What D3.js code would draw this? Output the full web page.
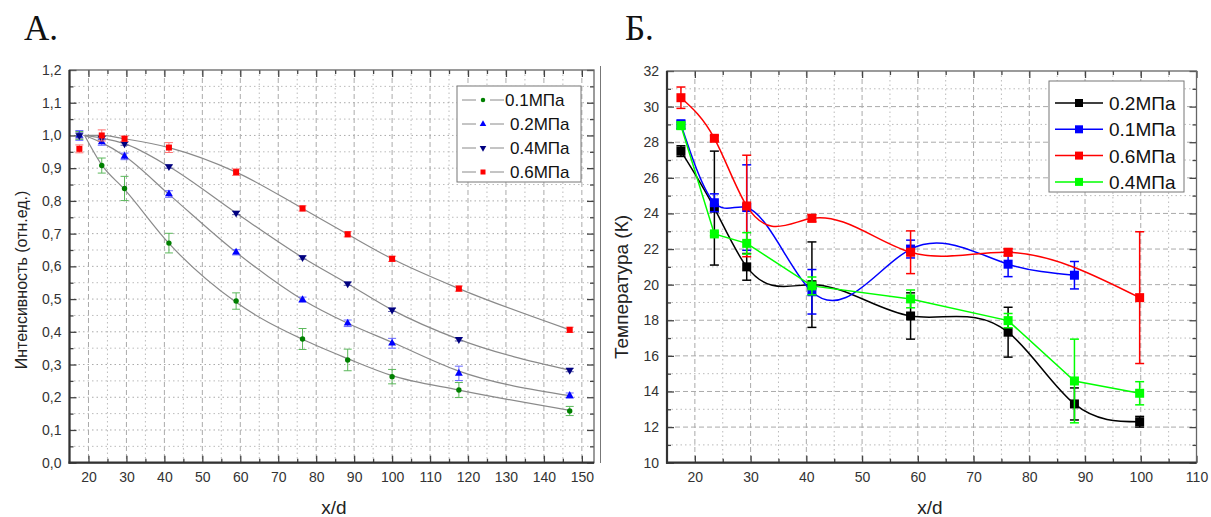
<!DOCTYPE html>
<html>
<head>
<meta charset="utf-8">
<script src="https://cdn.jsdelivr.net/npm/d3@7"></script>
<style>
  body { margin: 0; background: #fff; }
  text { font-family: "Liberation Sans", Arial, sans-serif; }
</style>
</head>
<body>
<svg id="chart" width="1211" height="517"></svg>
<script>
// ---- panel A data: intensity vs x/d ----
var xA = [17.6, 23.5, 29.5, 41.2, 58.9, 76.4, 88.3, 100, 117.6, 146.8];
var a01 = [1.0, 0.908, 0.838, 0.671, 0.494, 0.378, 0.314, 0.263, 0.222, 0.158];
var a01err = [0.012, 0.023, 0.037, 0.03, 0.025, 0.032, 0.033, 0.022, 0.023, 0.014];
var a02 = [1.0, 0.98, 0.936, 0.821, 0.643, 0.498, 0.426, 0.365, 0.273, 0.205];
var a02err = [0.015, 0.01, 0.01, 0.01, 0.008, 0.008, 0.01, 0.015, 0.022, 0.008];
var a04 = [1.0, 0.992, 0.975, 0.905, 0.763, 0.627, 0.547, 0.467, 0.377, 0.283];
var a04err = [0.008, 0.005, 0.005, 0.005, 0.005, 0.005, 0.005, 0.005, 0.005, 0.005];
var a06 = [0.959, 1.0, 0.99, 0.963, 0.888, 0.777, 0.698, 0.623, 0.532, 0.406];
var a06err = [0.012, 0.017, 0.008, 0.015, 0.01, 0.008, 0.008, 0.008, 0.008, 0.008];
// fitted curves (grey lines)
var fitX = [19, 23.5, 29.5, 41.2, 58.9, 76.4, 88.3, 100, 117.6, 146.8];
var fit01 = [1.0, 0.91, 0.835, 0.67, 0.49, 0.377, 0.318, 0.266, 0.222, 0.16];
var fit02 = [1.0, 0.978, 0.937, 0.82, 0.643, 0.498, 0.426, 0.368, 0.28, 0.205];
var fit04 = [1.0, 0.992, 0.975, 0.905, 0.763, 0.627, 0.547, 0.467, 0.377, 0.283];
var fit06 = [1.0, 1.0, 0.99, 0.963, 0.888, 0.777, 0.698, 0.623, 0.532, 0.406];
var labelsA = ["0.1МПа", "0.2МПа", "0.4МПа", "0.6МПа"];

// ---- panel B data: temperature vs x/d ----
var xB = [17.5, 23.5, 29.3, 41, 58.7, 76.2, 88.1, 99.8];
var b02 = [27.5, 24.3, 21.0, 20.0, 18.24, 17.33, 13.3, 12.3];
var b02err = [0.3, 3.2, 0.75, 2.4, 1.3, 1.4, 0.9, 0.3];
var b01 = [29.0, 24.6, 24.33, 19.6, 22.0, 21.15, 20.53, null];
var b01err = [0.25, 0.5, 2.4, 1.25, 0.5, 0.7, 0.77, null];
var b06 = [30.5, 28.22, 24.42, 23.73, 21.82, 21.82, null, 19.27];
var b06err = [0.6, 0.15, 2.85, 0.2, 1.2, 0.2, null, 3.7];
var b04 = [28.93, 22.85, 22.32, 19.93, 19.2, 17.98, 14.59, 13.9];
var b04err = [0.2, 0.1, 0.6, 0.5, 0.5, 0.4, 2.35, 0.65];
var labelsB = ["0.2МПа", "0.1МПа", "0.6МПа", "0.4МПа"];

var svg = d3.select("#chart");

// natural cubic spline y(x) as a d3 curve (like Origin's "Spline" connect)
function SplineX(context) { this._context = context; }
SplineX.prototype = {
    areaStart: function() { this._line = 0; },
    areaEnd: function() { this._line = NaN; },
    lineStart: function() { this._x = []; this._y = []; },
    point: function(x, y) { this._x.push(+x); this._y.push(+y); },
    lineEnd: function() {
        var x = this._x, y = this._y, n = x.length, ctx = this._context;
        if (!n) return;
        ctx.moveTo(x[0], y[0]);
        if (n === 2) { ctx.lineTo(x[1], y[1]); return; }
        var h = [], i;
        for (i = 0; i < n - 1; i++) h.push(x[i + 1] - x[i]);
        // tridiagonal system for second derivatives
        var M = new Array(n).fill(0), cp = new Array(n).fill(0), dp = new Array(n).fill(0);
        for (i = 1; i < n - 1; i++) {
            var a = h[i - 1], b = 2 * (h[i - 1] + h[i]), c = h[i];
            var d = 6 * ((y[i + 1] - y[i]) / h[i] - (y[i] - y[i - 1]) / h[i - 1]);
            var den = b - a * cp[i - 1];
            cp[i] = c / den;
            dp[i] = (d - a * dp[i - 1]) / den;
        }
        for (i = n - 2; i >= 1; i--) M[i] = dp[i] - cp[i] * M[i + 1];
        for (i = 0; i < n - 1; i++) {
            var s = (y[i + 1] - y[i]) / h[i];
            var m0 = s - h[i] * (2 * M[i] + M[i + 1]) / 6;
            var m1 = s + h[i] * (M[i] + 2 * M[i + 1]) / 6;
            ctx.bezierCurveTo(x[i] + h[i] / 3, y[i] + m0 * h[i] / 3,
                x[i + 1] - h[i] / 3, y[i + 1] - m1 * h[i] / 3, x[i + 1], y[i + 1]);
        }
    }
};
function curveSplineX(context) { return new SplineX(context); }

function makeSeries(xs, ys, es) {
    return xs.map(function(x, i) { return { x: x, y: ys[i], e: es ? es[i] : 0 }; })
        .filter(function(d) { return d.y != null; });
}

// frame, grid and axes for one panel
function panel(opt) {
    var x = d3.scaleLinear().domain(opt.xDomain).range([opt.left, opt.right]);
    var y = d3.scaleLinear().domain(opt.yDomain).range([opt.bottom, opt.top]);
    var g = svg.append("g");

    // grid
    opt.xMinor.forEach(function(v) {
        g.append("line").attr("x1", x(v)).attr("x2", x(v)).attr("y1", opt.top).attr("y2", opt.bottom)
            .attr("stroke", "#bbb").attr("stroke-width", 1).attr("stroke-dasharray", "1.5,3");
    });
    opt.xMajor.forEach(function(v) {
        g.append("line").attr("x1", x(v)).attr("x2", x(v)).attr("y1", opt.top).attr("y2", opt.bottom)
            .attr("stroke", "#aaa").attr("stroke-width", 1).attr("stroke-dasharray", "5,3");
    });
    opt.yMinor.forEach(function(v) {
        g.append("line").attr("x1", opt.left).attr("x2", opt.right).attr("y1", y(v)).attr("y2", y(v))
            .attr("stroke", "#bbb").attr("stroke-width", 1).attr("stroke-dasharray", "1.5,3");
    });
    opt.yMajor.forEach(function(v) {
        g.append("line").attr("x1", opt.left).attr("x2", opt.right).attr("y1", y(v)).attr("y2", y(v))
            .attr("stroke", "#aaa").attr("stroke-width", 1)
            .attr("stroke-dasharray", opt.yMajorDash ? "5,3" : "1.5,3");
    });

    var fmt = opt.yFormat;
    function styleAxis(sel) {
        sel.select(".domain").remove();
        sel.selectAll(".tick line").attr("stroke", "#444").attr("stroke-width", 1.3);
        sel.selectAll(".tick text").attr("fill", "#333").style("font-size", "14px");
    }
    // major ticks
    g.append("g").attr("transform", "translate(0," + opt.bottom + ")")
        .call(d3.axisBottom(x).tickValues(opt.xMajor).tickSize(-7).tickPadding(9).tickFormat(d3.format("d")))
        .call(styleAxis);
    g.append("g").attr("transform", "translate(0," + opt.top + ")")
        .call(d3.axisTop(x).tickValues(opt.xMajor).tickSize(-7).tickFormat(""))
        .call(styleAxis);
    g.append("g").attr("transform", "translate(" + opt.left + ",0)")
        .call(d3.axisLeft(y).tickValues(opt.yTicks).tickSize(-7).tickPadding(8).tickFormat(fmt))
        .call(styleAxis);
    g.append("g").attr("transform", "translate(" + opt.right + ",0)")
        .call(d3.axisRight(y).tickValues(opt.yTicks).tickSize(-7).tickFormat(""))
        .call(styleAxis);
    // minor ticks
    g.append("g").attr("transform", "translate(0," + opt.bottom + ")")
        .call(d3.axisBottom(x).tickValues(opt.xMinor).tickSize(-4).tickFormat("")).call(styleAxis);
    g.append("g").attr("transform", "translate(0," + opt.top + ")")
        .call(d3.axisTop(x).tickValues(opt.xMinor).tickSize(-4).tickFormat("")).call(styleAxis);
    g.append("g").attr("transform", "translate(" + opt.left + ",0)")
        .call(d3.axisLeft(y).tickValues(opt.yMinorTicks).tickSize(-4).tickFormat("")).call(styleAxis);
    g.append("g").attr("transform", "translate(" + opt.right + ",0)")
        .call(d3.axisRight(y).tickValues(opt.yMinorTicks).tickSize(-4).tickFormat("")).call(styleAxis);

    // frame
    g.append("rect").attr("x", opt.left).attr("y", opt.top)
        .attr("width", opt.right - opt.left).attr("height", opt.bottom - opt.top)
        .attr("fill", "none").attr("stroke", "#666").attr("stroke-width", 1.3);
    g.append("line").attr("x1", opt.left).attr("x2", opt.left).attr("y1", opt.top).attr("y2", opt.bottom + 1)
        .attr("stroke", "#333").attr("stroke-width", 2.2);
    g.append("line").attr("x1", opt.left - 1).attr("x2", opt.right).attr("y1", opt.bottom).attr("y2", opt.bottom)
        .attr("stroke", "#333").attr("stroke-width", 2.2);

    // axis titles
    svg.append("text").attr("x", opt.xLabelX).attr("y", 514)
        .attr("text-anchor", "middle").style("font-size", "19px").attr("fill", "#222").text("x/d");
    svg.append("text")
        .attr("transform", "translate(" + opt.yLabelX + "," + opt.yLabelY + ") rotate(-90)")
        .attr("text-anchor", "middle").style("font-size", opt.yLabelSize).attr("fill", "#222").text(opt.yLabel);

    return { x: x, y: y, g: g };
}

function range(a, b, step) { return d3.range(a, b + step / 2, step).map(function(v) { return +v.toFixed(3); }); }

// ===================== Panel A =====================
var pA = panel({
    left: 69.5, right: 594, top: 70, bottom: 462.7,
    xDomain: [15, 153.2], yDomain: [0, 1.2],
    xMajor: range(20, 150, 10), xMinor: range(25, 145, 10),
    yTicks: range(0, 1.2, 0.1), yMinorTicks: range(0.05, 1.15, 0.1),
    yMajor: range(0.1, 1.1, 0.1), yMinor: range(0.05, 1.15, 0.1), yMajorDash: false,
    yFormat: function(d) { return d3.format(".1f")(d).replace(".", ","); },
    yLabel: "Интенсивность (отн.ед.)", yLabelX: 27, yLabelY: 280, yLabelSize: "16px", xLabelX: 334
});

var seriesA = [
    { pts: makeSeries(xA, a01, a01err), fit: makeSeries(fitX, fit01), color: "#008000", err: "#5cb85c", shape: "circle" },
    { pts: makeSeries(xA, a02, a02err), fit: makeSeries(fitX, fit02), color: "#0000ff", err: "#6a6aff", shape: "up" },
    { pts: makeSeries(xA, a04, a04err), fit: makeSeries(fitX, fit04), color: "#000080", err: "#5a5aa8", shape: "down" },
    { pts: makeSeries(xA, a06, a06err), fit: makeSeries(fitX, fit06), color: "#ff0000", err: "#ff7070", shape: "square" }
];

var fitLine = d3.line().x(function(d) { return pA.x(d.x); }).y(function(d) { return pA.y(d.y); })
    .curve(d3.curveMonotoneX);
seriesA.forEach(function(s) {
    pA.g.append("path").attr("d", fitLine(s.fit)).attr("fill", "none")
        .attr("stroke", "#8a8a8a").attr("stroke-width", 1.2);
});

function marker(g, shape, cx, cy, color, size) {
    if (shape === "circle") {
        g.append("circle").attr("cx", cx).attr("cy", cy).attr("r", size * 0.45).attr("fill", color);
    } else if (shape === "square") {
        g.append("rect").attr("x", cx - size / 2).attr("y", cy - size / 2)
            .attr("width", size).attr("height", size).attr("fill", color);
    } else {
        var sym = d3.symbol().type(d3.symbolTriangle).size(size * size * 0.75);
        g.append("path").attr("d", sym())
            .attr("transform", "translate(" + cx + "," + cy + ")" + (shape === "down" ? " rotate(180)" : ""))
            .attr("fill", color);
    }
}

function errorBar(g, x, y, d, color, cap, width) {
    var x0 = x(d.x);
    g.append("line").attr("x1", x0).attr("x2", x0).attr("y1", y(d.y - d.e)).attr("y2", y(d.y + d.e))
        .attr("stroke", color).attr("stroke-width", width);
    [d.y - d.e, d.y + d.e].forEach(function(v) {
        g.append("line").attr("x1", x0 - cap).attr("x2", x0 + cap).attr("y1", y(v)).attr("y2", y(v))
            .attr("stroke", color).attr("stroke-width", width);
    });
}

seriesA.forEach(function(s) {
    s.pts.forEach(function(d) {
        errorBar(pA.g, pA.x, pA.y, d, s.err, 4, 1);
        marker(pA.g, s.shape, pA.x(d.x), pA.y(d.y), s.color, 6);
    });
});

// legend A
var legA = svg.append("g");
legA.append("rect").attr("x", 457).attr("y", 86).attr("width", 124).attr("height", 96)
    .attr("fill", "#fff").attr("stroke", "#777").attr("stroke-width", 1);
seriesA.forEach(function(s, i) {
    var ly = 100 + i * 24;
    legA.append("line").attr("x1", 462).attr("x2", 476).attr("y1", ly).attr("y2", ly).attr("stroke", "#8a8a8a");
    legA.append("line").attr("x1", 490).attr("x2", 504).attr("y1", ly).attr("y2", ly).attr("stroke", "#8a8a8a");
    marker(legA, s.shape, 483, ly, s.color, 5);
    legA.append("text").attr("x", i === 0 ? 505 : 510).attr("y", ly + 6)
        .style("font-size", "17px").attr("fill", "#111").text(labelsA[i]);
});

// ===================== Panel B =====================
// thin separator line at the left of panel B
svg.append("line").attr("x1", 600.5).attr("x2", 600.5).attr("y1", 66).attr("y2", 463)
    .attr("stroke", "#777").attr("stroke-width", 1);

var pB = panel({
    left: 667, right: 1196.5, top: 71, bottom: 462.7,
    xDomain: [15, 110], yDomain: [10, 32],
    xMajor: range(20, 110, 10), xMinor: range(25, 105, 10),
    yTicks: range(10, 32, 2), yMinorTicks: range(11, 31, 2),
    yMajor: range(12, 30, 2), yMinor: range(11, 31, 2), yMajorDash: true,
    yFormat: d3.format("d"),
    yLabel: "Температура (К)", yLabelX: 628, yLabelY: 287, yLabelSize: "19px", xLabelX: 930
});

var seriesB = [
    { pts: makeSeries(xB, b02, b02err), color: "#000000", curve: curveSplineX },
    { pts: makeSeries(xB, b01, b01err), color: "#0000ff", curve: curveSplineX },
    { pts: makeSeries(xB, b06, b06err), color: "#ff0000", curve: curveSplineX },
    { pts: makeSeries(xB, b04, b04err), color: "#00ff00", curve: d3.curveLinear }
];

seriesB.forEach(function(s) {
    var line = d3.line().x(function(d) { return pB.x(d.x); }).y(function(d) { return pB.y(d.y); }).curve(s.curve);
    pB.g.append("path").attr("d", line(s.pts)).attr("fill", "none")
        .attr("stroke", s.color).attr("stroke-width", 1.5);
    s.pts.forEach(function(d) {
        errorBar(pB.g, pB.x, pB.y, d, s.color, 4.5, 1.5);
        marker(pB.g, "square", pB.x(d.x), pB.y(d.y), s.color, 9);
    });
});

// legend B
var legB = svg.append("g");
legB.append("rect").attr("x", 1049).attr("y", 81).attr("width", 135).attr("height", 111)
    .attr("fill", "#fff").attr("stroke", "#777").attr("stroke-width", 1);
seriesB.forEach(function(s, i) {
    var ly = 103 + i * 26.3;
    legB.append("line").attr("x1", 1055).attr("x2", 1103).attr("y1", ly).attr("y2", ly)
        .attr("stroke", s.color).attr("stroke-width", 1.5);
    marker(legB, "square", 1079, ly, s.color, 8);
    legB.append("text").attr("x", 1109).attr("y", ly + 7)
        .style("font-size", "19px").attr("fill", "#111").text(labelsB[i]);
});

// panel titles
svg.append("text").attr("x", 24).attr("y", 40).style("font-family", "'Liberation Serif', serif")
    .style("font-size", "35px").attr("fill", "#111").text("А.");
svg.append("text").attr("x", 625).attr("y", 40).style("font-family", "'Liberation Serif', serif")
    .style("font-size", "35px").attr("fill", "#111").text("Б.");
</script>
</body>
</html>
